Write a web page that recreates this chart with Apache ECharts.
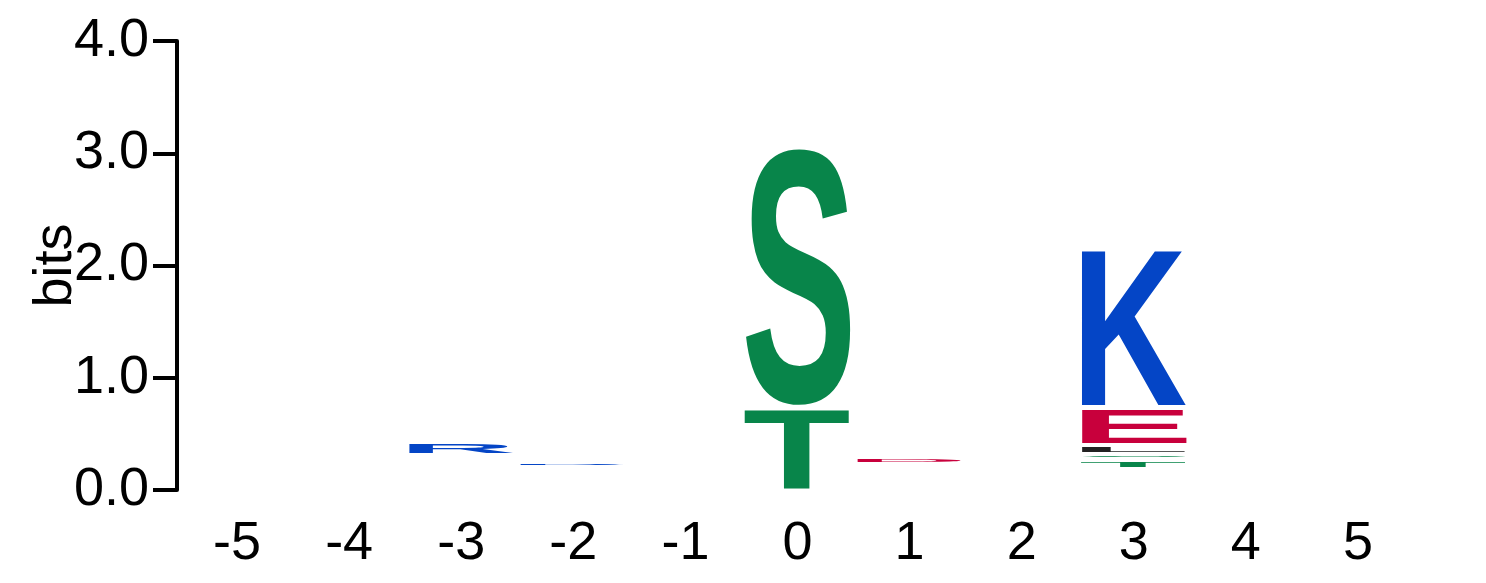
<!DOCTYPE html>
<html>
<head>
<meta charset="utf-8">
<script src="https://cdn.jsdelivr.net/npm/echarts@6/dist/echarts.min.js"></script>
<style>
html,body{margin:0;padding:0;background:#fff;}
#chart{width:1486px;height:583px;}
</style>
</head>
<body>
<div id="chart"></div>
<script>
// ---- data ----
const positions = ['-5','-4','-3','-2','-1','0','1','2','3','4','5'];
const yTicks = [0, 1, 2, 3, 4];
// bottom of each column's stack (bits)
const columnBase = [0, 0, 0.314, 0.207, 0, 0, 0.232, 0, 0.19, 0, 0];
// letters from bottom to top
const columnLetters = [[], [], ['R'], ['R'], [], ['T','S'], ['D'], [], ['T','S','L','E','K'], [], []];
// letter heights (bits), same order
const columnHeights = [[], [], [0.113], [0.045], [], [0.74, 2.316], [0.053], [], [0.085, 0.05, 0.08, 0.332, 1.425], [], []];
const letterColors = {
  K: '#0445c6', R: '#0445c6', H: '#0445c6',
  D: '#c8003c', E: '#c8003c',
  S: '#08854a', T: '#08854a', G: '#08854a', Y: '#08854a', C: '#08854a',
  L: '#222222', A: '#222222', V: '#222222', I: '#222222', P: '#222222', M: '#222222', F: '#222222', W: '#222222'
};

// ---- build letter items ----
const items = [];
columnLetters.forEach((letters, c) => {
  let b = columnBase[c];
  letters.forEach((L, i) => {
    const h = columnHeights[c][i];
    items.push({ col: c, bottom: b, top: b + h, letter: L });
    b += h;
  });
});

const FONT_FAMILY = '"Liberation Sans", Arial, sans-serif';
const GLYPH_FONT = 'bold 100px ' + FONT_FAMILY;
const mctx = document.createElement('canvas').getContext('2d');
mctx.font = GLYPH_FONT;
mctx.textAlign = 'left';
mctx.textBaseline = 'middle';
const metrics = {};
function getMetrics(L) {
  if (!metrics[L]) {
    const m = mctx.measureText(L);
    metrics[L] = {
      l: m.actualBoundingBoxLeft, r: m.actualBoundingBoxRight,
      a: m.actualBoundingBoxAscent, d: m.actualBoundingBoxDescent
    };
  }
  return metrics[L];
}

const chart = echarts.init(document.getElementById('chart'), null, { renderer: 'canvas' });
const option = {
  animation: false,
  backgroundColor: '#ffffff',
  grid: { left: 181, right: 72, top: 41, bottom: 93, containLabel: false },
  xAxis: {
    type: 'category',
    data: positions,
    boundaryGap: true,
    axisLine: { show: false },
    axisTick: { show: false },
    axisLabel: { color: '#000', fontSize: 54, fontFamily: FONT_FAMILY, margin: 27, interval: 0 },
    splitLine: { show: false }
  },
  yAxis: {
    type: 'value',
    min: 0, max: 4, interval: 1,
    offset: 4,
    name: 'bits',
    nameLocation: 'middle',
    nameRotate: 90,
    nameGap: 94,
    nameMoveOverlap: false,
    nameTextStyle: { color: '#000', fontSize: 54, fontFamily: FONT_FAMILY },
    axisLine: { show: true, lineStyle: { color: '#000', width: 4 } },
    axisTick: { show: true, length: 24, lineStyle: { color: '#000', width: 4 } },
    axisLabel: {
      color: '#000', fontSize: 54, fontFamily: FONT_FAMILY, margin: 28,
      formatter: v => yTicks.indexOf(v) >= 0 ? v.toFixed(1) : ''
    },
    splitLine: { show: false }
  },
  series: [{
    type: 'custom',
    data: items.map(it => [it.col, it.bottom, it.top]),
    encode: { x: 0, y: [1, 2] },
    renderItem: function (params, api) {
      const it = items[params.dataIndex];
      const c = api.value(0);
      const p0 = api.coord([c, api.value(1)]);
      const p1 = api.coord([c, api.value(2)]);
      const bw = api.size([1, 0])[0] * 0.945;
      const xL = p0[0] - bw / 2, xR = p0[0] + bw / 2;
      let yBot = p0[1] - 2, yTop = p1[1] + 2;
      if (yBot - yTop < 1.2) {
        const mid = (p0[1] + p1[1]) / 2;
        yTop = mid - 0.6; yBot = mid + 0.6;
      }
      const m = getMetrics(it.letter);
      const sx = (xR - xL) / (m.l + m.r);
      const sy = (yBot - yTop) / (m.a + m.d);
      return {
        type: 'text',
        x: xL + sx * m.l,
        y: yTop + sy * m.a,
        scaleX: sx,
        scaleY: sy,
        silent: true,
        style: {
          text: it.letter, x: 0, y: 0,
          font: GLYPH_FONT,
          fill: letterColors[it.letter] || '#000',
          align: 'left', verticalAlign: 'middle'
        }
      };
    }
  }]
};
chart.setOption(option);
</script>
</body>
</html>
